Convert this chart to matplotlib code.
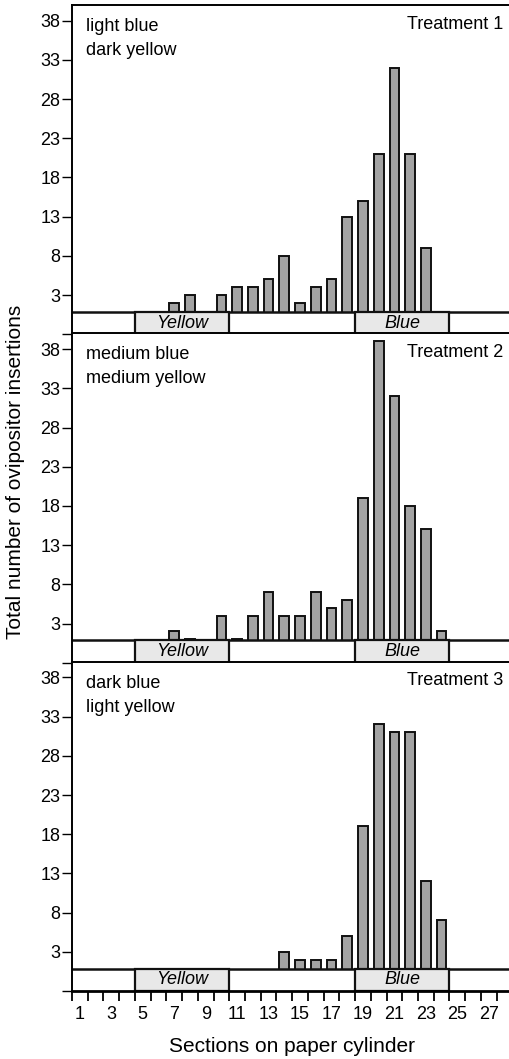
import matplotlib
matplotlib.use('Agg')
import matplotlib.pyplot as plt
from matplotlib.patches import Rectangle
import numpy as np

plt.rcParams['font.family'] = ['Liberation Sans', 'DejaVu Sans']

# sections on the paper cylinder and insertions per treatment
sections = list(range(1, 28))
treatment1 = [0, 0, 0, 0, 0, 0, 2, 3, 0, 3, 4, 4, 5, 8, 2, 4, 5, 13, 15, 21,
              32, 21, 9, 0, 0, 0, 0]
treatment2 = [0, 0, 0, 0, 0, 0, 2, 1, 0, 4, 1, 4, 7, 4, 4, 7, 5, 6, 19, 39,
              32, 18, 15, 2, 0, 0, 0]
treatment3 = [0, 0, 0, 0, 0, 0, 0, 0, 0, 0, 0, 0, 0, 3, 2, 2, 2, 5, 19, 32,
              31, 31, 12, 7, 0, 0, 0]
series = [treatment1, treatment2, treatment3]
panel_titles = ['Treatment 1', 'Treatment 2', 'Treatment 3']
panel_notes = [('light blue', 'dark yellow'),
               ('medium blue', 'medium yellow'),
               ('dark blue', 'light yellow')]
yticks = [-2, 3, 8, 13, 18, 23, 28, 33, 38]
ytick_labels = ['', '3', '8', '13', '18', '23', '28', '33', '38']
xtick_labels = list(range(1, 28, 2))
yellow_span = (5, 10)
blue_span = (19, 24)

strip_top = 0.85
fig = plt.figure(figsize=(5.1, 10.59), dpi=100)
bottoms = [0.6844, 0.3742, 0.0642]
for i, vals in enumerate(series):
    ax = fig.add_axes([0.1412, bottoms[i], 0.8588, 0.3109])
    ax.bar(sections, vals, width=0.62, color='#a3a3a3', edgecolor='#111111',
           linewidth=1.4, zorder=2)
    ax.set_xlim(0.5, 28.35)
    ax.set_ylim(-2, 40)

    # colour strip under the bars
    ax.add_patch(Rectangle((0.5, -2), 30, strip_top + 2, facecolor='white',
                           edgecolor='none', zorder=3))
    ax.axhline(strip_top, color='#111111', lw=1.8, zorder=4)
    for span, name in [(yellow_span, 'Yellow'), (blue_span, 'Blue')]:
        ax.add_patch(Rectangle((span[0] - 0.5, -2), span[1] - span[0] + 1,
                               strip_top + 2, facecolor='#e8e8e8',
                               edgecolor='#111111', lw=1.6, zorder=4))
        ax.text((span[0] + span[1]) / 2, (strip_top - 2) / 2, name,
                style='italic', fontsize=13, ha='center', va='center',
                zorder=5)

    ax.set_yticks(yticks)
    ax.set_yticklabels(ytick_labels, fontsize=13)
    ax.tick_params(axis='y', direction='out', length=7, width=1, pad=1.5)
    ax.spines['right'].set_visible(False)
    ax.spines['left'].set_linewidth(1.4)
    ax.spines['bottom'].set_linewidth(2)
    ax.spines['top'].set_linewidth(1.4)
    for sp in ax.spines.values():
        sp.set_zorder(6)

    ax.text(0.032, 0.935, panel_notes[i][0], transform=ax.transAxes,
            fontsize=13, ha='left', va='center')
    ax.text(0.032, 0.862, panel_notes[i][1], transform=ax.transAxes,
            fontsize=13, ha='left', va='center')
    ax.text(0.984, 0.942, panel_titles[i], transform=ax.transAxes,
            fontsize=13, ha='right', va='center')

    if i < 2:
        ax.set_xticks([])
    else:
        ax.set_xticks(np.arange(0.5, 28, 1))
        ax.set_xticklabels([])
        ax.set_xticks(xtick_labels, minor=True)
        ax.set_xticklabels([str(v) for v in xtick_labels], minor=True,
                           fontsize=13)
        ax.tick_params(axis='x', which='major', direction='out', length=7,
                       width=1.3)
        ax.tick_params(axis='x', which='minor', length=0, pad=11)

fig.text(0.0304, 0.554, 'Total number of ovipositor insertions',
         rotation=90, fontsize=15, ha='center', va='center')
fig.text(0.5725, 0.0116, 'Sections on paper cylinder', fontsize=15,
         ha='center', va='center')

fig.savefig('out.png', dpi=100)
